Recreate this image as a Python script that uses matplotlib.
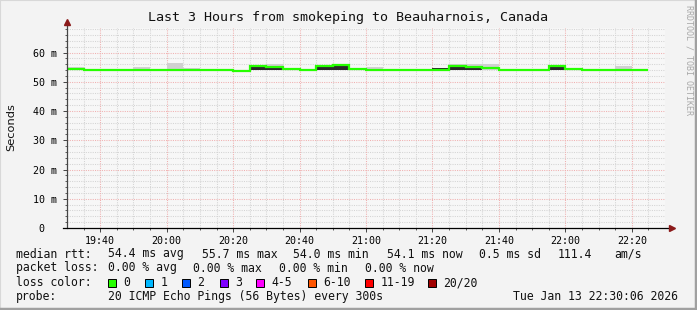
import numpy as np
import matplotlib
matplotlib.use("Agg")
import matplotlib.pyplot as plt
from matplotlib.patches import Rectangle
from matplotlib.lines import Line2D

# ==========================================================
# Data (5 minute steps starting 19:30)
# ==========================================================

step_minutes = 5

median_rtt = [54.4, 54.0, 54.0, 54.0, 54.0, 54.0, 54.0, 54.0, 54.0, 54.0,
              53.7, 55.3, 55.1, 54.3, 54.0, 55.4, 55.7, 54.4, 54.0, 54.0,
              54.0, 54.0, 54.2, 55.3, 55.0, 54.7, 54.0, 54.0, 54.0, 55.5,
              54.3, 54.0, 54.0, 54.0, 54.0]

smoke_lo = [53.9, 54.0, 54.0, 54.0, 54.0, 54.0, 54.0, 54.0, 54.0, 54.0,
            53.6, 54.0, 54.0, 54.0, 54.0, 54.0, 54.0, 54.0, 54.0, 54.0,
            54.0, 54.0, 54.0, 54.0, 54.0, 54.0, 54.0, 54.0, 54.0, 54.0,
            54.0, 54.0, 54.0, 54.0, 54.0]

smoke_hi = [55.0, 54.0, 54.0, 54.0, 55.1, 54.0, 56.3, 54.8, 54.0, 54.0,
            54.0, 55.6, 56.1, 54.6, 54.3, 55.7, 56.0, 54.8, 55.1, 54.0,
            54.0, 54.0, 54.8, 56.1, 56.1, 56.0, 54.0, 54.0, 54.0, 55.9,
            54.5, 54.0, 54.0, 55.4, 54.0]

core_lo = [54.0, 54.0, 54.0, 54.0, 54.0, 54.0, 54.0, 54.0, 54.0, 54.0,
           54.0, 54.0, 54.0, 54.0, 54.0, 54.0, 54.0, 54.0, 54.0, 54.0,
           54.0, 54.0, 54.0, 54.0, 54.0, 54.0, 54.0, 54.0, 54.0, 54.0,
           54.0, 54.0, 54.0, 54.0, 54.0]

core_hi = [54.0, 54.0, 54.0, 54.0, 54.0, 54.0, 54.0, 54.0, 54.0, 54.0,
           54.0, 55.1, 54.9, 54.0, 54.0, 55.2, 55.4, 54.0, 54.0, 54.0,
           54.0, 54.0, 54.7, 54.9, 54.6, 54.0, 54.0, 54.0, 54.0, 55.2,
           54.0, 54.0, 54.0, 54.0, 54.0]

x_tick_labels = ["19:40", "20:00", "20:20", "20:40", "21:00",
                 "21:20", "21:40", "22:00", "22:20"]
y_tick_values = [0, 10, 20, 30, 40, 50, 60]
y_tick_labels = ["0  ", "10 m", "20 m", "30 m", "40 m", "50 m", "60 m"]

loss_labels = ["0", "1", "2", "3", "4-5", "6-10", "11-19", "20/20"]
loss_colors = ["#26ff00", "#00b8ff", "#0059ff", "#7e00ff",
               "#ff00ff", "#ff5500", "#ff0000", "#a10000"]

title = "Last 3 Hours from smokeping to Beauharnois, Canada"
rtt_stats = ["54.4 ms avg", "55.7 ms max", "54.0 ms min", "54.1 ms now",
             "0.5 ms sd", "111.4", "am/s"]
loss_stats = ["0.00 % avg", "0.00 % max", "0.00 % min", "0.00 % now"]
probe_text = "20 ICMP Echo Pings (56 Bytes) every 300s"
stamp_text = "Tue Jan 13 22:30:06 2026"

# ==========================================================
# Figure
# ==========================================================

W, H = 697, 310
MONO = "DejaVu Sans Mono"
BG = "#f3f3f3"


def fx(x):
    return x / W


def fy(y):
    return 1 - y / H


fig = plt.figure(figsize=(W / 100, H / 100), dpi=100, facecolor=BG)
ax = fig.add_axes([fx(67), fy(228), (665 - 67) / W, 200 / H])
ax.set_facecolor("#f7f7f7")

n = len(median_rtt)
edges = np.arange(n + 1) * step_minutes

ax.set_xlim(0, 180)
ax.set_ylim(0, 68.4)

# grid
minor_x = np.arange(5, 180, 5)
major_x = np.arange(10, 180, 20)
grid_minor = dict(color="#d4d4d4", lw=0.75, ls=(0, (1, 1.2)), zorder=0)
grid_major = dict(color="#f0b0b0", lw=0.75, ls=(0, (1, 1.2)), zorder=0)
for v in minor_x:
    if v not in major_x:
        ax.axvline(v, **grid_minor)
for v in np.arange(2, 68.4, 2):
    if v % 10 != 0:
        ax.axhline(v, **grid_minor)
for v in major_x:
    ax.axvline(v, **grid_major)
for v in y_tick_values[1:]:
    ax.axhline(v, **grid_major)

# smoke
ax.stairs(smoke_hi, edges, baseline=smoke_lo, fill=True,
          color="#d0d0d0", zorder=1)
ax.stairs(core_hi, edges, baseline=core_lo, fill=True,
          color="#2a2a2a", zorder=2)

# median rtt
ax.stairs(median_rtt, edges, color=loss_colors[0], lw=1.6,
          baseline=None, zorder=3)

# axes lines with arrows
for s in ax.spines.values():
    s.set_visible(False)
ax.add_line(Line2D([0, 0], [0, 70.3], color="#444444", lw=0.9,
                   clip_on=False, zorder=4))
ax.add_line(Line2D([-1.2, 181.5], [0, 0], color="black", lw=0.9,
                   clip_on=False, zorder=4))
ax.plot([0], [70.6], marker="^", ms=5, color="#8b1a1a",
        clip_on=False, zorder=5)
ax.plot([182.2], [0], marker=">", ms=5, color="#8b1a1a",
        clip_on=False, zorder=5)

# ticks
ax.set_xticks(major_x)
ax.set_xticklabels(x_tick_labels, fontfamily=MONO, fontsize=7.2)
ax.set_xticks(minor_x, minor=True)
ax.set_yticks(y_tick_values)
ax.set_yticklabels(y_tick_labels, fontfamily=MONO, fontsize=7.2)
ax.set_yticks(np.arange(2, 68.4, 2), minor=True)
ax.tick_params(axis="both", which="major", direction="out", length=3,
               width=0.7, color="#444444", pad=3)
ax.tick_params(axis="both", which="minor", direction="out", length=1.5,
               width=0.6, color="#444444")
ax.tick_params(axis="y", which="major", pad=4)

# ==========================================================
# Texts
# ==========================================================

fig.text(fx(347.5), fy(18), title, ha="center", va="center",
         fontfamily=MONO, fontsize=9.6, color="#111111")
fig.text(fx(11), fy(127), "Seconds", rotation=90, ha="center", va="center",
         fontfamily="DejaVu Sans", fontsize=8.2, color="#111111")
fig.text(fx(689), fy(60), "RRDTOOL / TOBI OETIKER", rotation=270,
         ha="center", va="center", fontfamily=MONO, fontsize=6,
         color="#a8a8a8")

leg = dict(ha="left", va="center", fontfamily=MONO, fontsize=8.3,
           color="#111111")

fig.text(fx(15.6), fy(254), "median rtt:", **leg)
for x, s in zip([108, 202, 293, 387, 479, 558, 614], rtt_stats):
    fig.text(fx(x), fy(254), s, **leg)

fig.text(fx(15.6), fy(268), "packet loss:", **leg)
for x, s in zip([108, 193, 279, 365], loss_stats):
    fig.text(fx(x), fy(268), s, **leg)

fig.text(fx(15.6), fy(282.5), "loss color:", **leg)
square_x = [108, 145, 182, 219.6, 256, 307.6, 365, 427.6]
for x, c, lab in zip(square_x, loss_colors, loss_labels):
    fig.patches.append(Rectangle((fx(x), fy(286.5)), 8 / W, 8 / H,
                                 transform=fig.transFigure,
                                 facecolor=c, edgecolor="black", lw=0.7))
    fig.text(fx(x + 15.5), fy(282.5), lab, **leg)

fig.text(fx(15.6), fy(296.5), "probe:", **leg)
fig.text(fx(108), fy(296.5), probe_text, **leg)
fig.text(fx(513), fy(296.5), stamp_text, **leg)

# frame
fig.add_artist(Line2D([0, 0], [0, 1], color="#d8d8d8", lw=1.5,
                      transform=fig.transFigure))
fig.add_artist(Line2D([0, 1], [1, 1], color="#d8d8d8", lw=1.5,
                      transform=fig.transFigure))
fig.add_artist(Line2D([1 - 1.5 / W, 1 - 1.5 / W], [0, 1], color="#a0a0a0",
                      lw=2.5, transform=fig.transFigure))
fig.add_artist(Line2D([0, 1], [1.5 / H, 1.5 / H], color="#a0a0a0",
                      lw=2.5, transform=fig.transFigure))

fig.savefig("out.png", dpi=100, facecolor=BG)
plt.close(fig)
